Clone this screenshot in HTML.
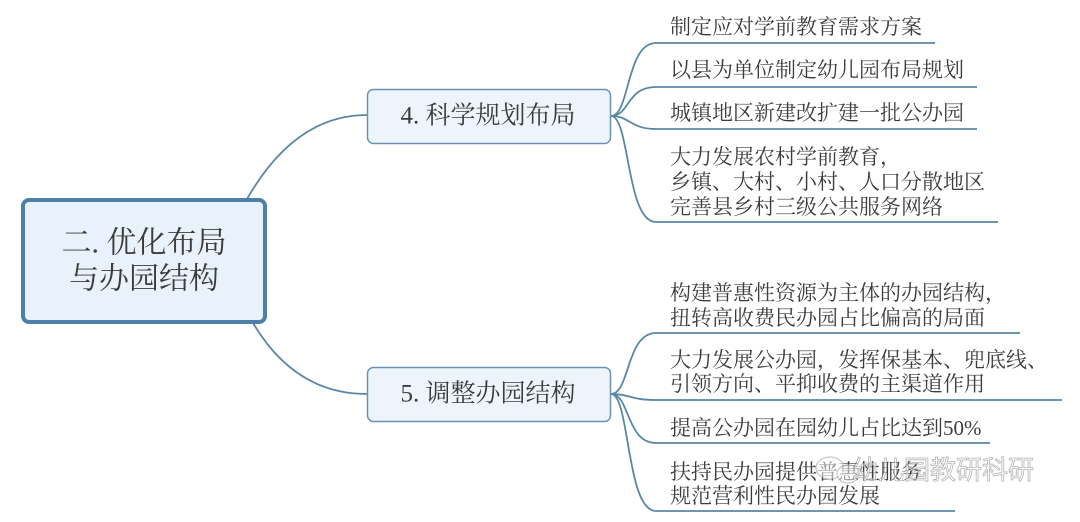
<!DOCTYPE html>
<html>
<head>
<meta charset="utf-8">
<style>
  html, body { margin: 0; padding: 0; background: #ffffff; }
  body { width: 1080px; height: 522px; overflow: hidden; }
  svg { display: block; }
  .t { font-family: "Liberation Serif", "Noto Serif CJK SC", serif; fill: #3c3c3c; }
</style>
</head>
<body>
<svg width="1080" height="522" viewBox="0 0 1080 522" xmlns="http://www.w3.org/2000/svg">
  <rect x="0" y="0" width="1080" height="522" fill="#ffffff"/>

  <!-- central connectors -->
  <g fill="none" stroke="#5a87a5" stroke-width="1.8">
    <path d="M247,199 Q295,115 367,115"/>
    <path d="M253,323 Q295,394 367,394"/>
  </g>

  <!-- top branch curves -->
  <g fill="none" stroke="#5a87a5" stroke-width="1.8">
    <path d="M611,116 C630,116 626,43 656,43 L935,43"/>
    <path d="M611,116 C630,116 626,87 656,87 L977,87"/>
    <path d="M611,116 C630,116 630,129 656,129 L977,129"/>
    <path d="M611,116 C630,116 626,222 656,222 L998,222"/>
  </g>

  <!-- bottom branch curves -->
  <g fill="none" stroke="#5a87a5" stroke-width="1.8">
    <path d="M611,394 C630,394 626,333 656,333 L1020,333"/>
    <path d="M611,394 C630,394 630,400 656,400 L1062,400"/>
    <path d="M611,394 C630,394 626,443 656,443 L990,443"/>
    <path d="M611,394 C630,394 626,511 656,511 L955,511"/>
  </g>

  <!-- central topic -->
  <rect x="23" y="200" width="242" height="122" rx="6" ry="6" fill="#e9f1fb" stroke="#4d7fa8" stroke-width="4"/>
  <text class="t" x="144" y="243" font-size="30" text-anchor="middle" dominant-baseline="central">二. 优化布局</text>
  <text class="t" x="144" y="279" font-size="30" text-anchor="middle" dominant-baseline="central">与办园结构</text>

  <!-- node 4 -->
  <rect x="367.5" y="89.5" width="243" height="54" rx="6" ry="6" fill="#eef4fb" stroke="#6a93b3" stroke-width="1.5"/>
  <text class="t" x="488" y="116" font-size="25" text-anchor="middle" dominant-baseline="central">4. 科学规划布局</text>

  <!-- node 5 -->
  <rect x="367.5" y="367.5" width="243" height="54" rx="6" ry="6" fill="#eef4fb" stroke="#6a93b3" stroke-width="1.5"/>
  <text class="t" x="488" y="394" font-size="25" text-anchor="middle" dominant-baseline="central">5. 调整办园结构</text>

  <!-- top leaves -->
  <g class="t" font-size="21">
    <text x="670" y="27" dominant-baseline="central">制定应对学前教育需求方案</text>
    <text x="670" y="70" dominant-baseline="central">以县为单位制定幼儿园布局规划</text>
    <text x="670" y="113" dominant-baseline="central">城镇地区新建改扩建一批公办园</text>
    <text x="670" y="157" dominant-baseline="central">大力发展农村学前教育，</text>
    <text x="670" y="182" dominant-baseline="central">乡镇、大村、小村、人口分散地区</text>
    <text x="670" y="207" dominant-baseline="central">完善县乡村三级公共服务网络</text>
  </g>

  <!-- bottom leaves -->
  <g class="t" font-size="21">
    <text x="670" y="293" dominant-baseline="central">构建普惠性资源为主体的办园结构，</text>
    <text x="670" y="318" dominant-baseline="central">扭转高收费民办园占比偏高的局面</text>
    <text x="670" y="360" dominant-baseline="central">大力发展公办园，发挥保基本、兜底线、</text>
    <text x="670" y="384" dominant-baseline="central">引领方向、平抑收费的主渠道作用</text>
    <text x="670" y="428" dominant-baseline="central">提高公办园在园幼儿占比达到50%</text>
    <text x="670" y="472" dominant-baseline="central">扶持民办园提供普惠性服务</text>
    <text x="670" y="496" dominant-baseline="central">规范营利性民办园发展</text>
  </g>

  <!-- watermark -->
  <g opacity="0.85">
    <ellipse cx="830" cy="468" rx="14" ry="11" fill="rgba(255,255,255,0.6)" stroke="#b0b0b0" stroke-width="1"/>
    <ellipse cx="848" cy="474" rx="11" ry="9" fill="rgba(255,255,255,0.6)" stroke="#b0b0b0" stroke-width="1"/>
    <circle cx="825" cy="466" r="1.5" fill="#b0b0b0"/>
    <circle cx="834" cy="466" r="1.5" fill="#b0b0b0"/>
    <text x="852" y="470" font-size="26" font-family="'Liberation Sans','Noto Sans CJK SC',sans-serif" dominant-baseline="central" fill="rgba(255,255,255,0.55)" stroke="#a8a8a8" stroke-width="0.8">幼儿园教研科研</text>
  </g>
</svg>
</body>
</html>
